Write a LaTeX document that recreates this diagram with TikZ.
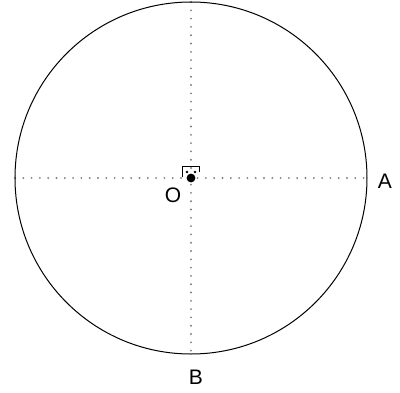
\documentclass[tikz,border=0pt]{standalone}
\usepackage{fontspec}
\setmainfont{Liberation Sans}
\begin{document}
\begin{tikzpicture}[x=1pt,y=-1pt,
  dotline/.style={draw=black!50, line width=2.1pt, line cap=round, dash pattern=on 0pt off 8.3pt},
  lbl/.style={inner sep=0pt, font=\fontsize{21}{21}\selectfont}]
\useasboundingbox (0,0) rectangle (400,392);
\coordinate (O) at (191,178);
\coordinate (L) at (15,178);
\coordinate (R) at (367,178);
\coordinate (T) at (191,2);
\coordinate (Bt) at (191,354);
\draw[dotline] (L) -- (R);
\draw[dotline] (T) -- (Bt);
\draw[line width=1pt] (O) circle (176);
\draw[line width=0.9pt] (182,177) -- (182,166) -- (199,166) -- (199,172);
\fill (187,172) circle (1.3);
\fill (195,172) circle (1.3);
\fill (O) circle (4.4);
\node[lbl] (lo) at (173,195) {O};
\node[lbl] (la) at (385,181) {A};
\node[lbl] (lb) at (196,377) {B};
\end{tikzpicture}
\end{document}
